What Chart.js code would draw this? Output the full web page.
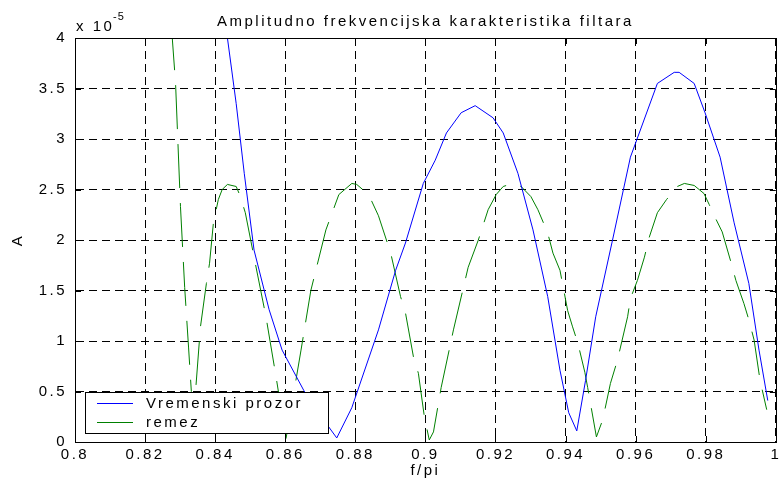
<!DOCTYPE html>
<html>
<head>
<meta charset="utf-8">
<script src="https://cdn.jsdelivr.net/npm/chart.js@4.4.0/dist/chart.umd.min.js"></script>
<style>
  html, body { margin: 0; padding: 0; background: #fff; }
</style>
</head>
<body>
<canvas id="grafik" width="784" height="484"></canvas>
<script>
// amplitude values are in units of 1e-5 (see "x 10^-5" above the axis)
const naslov = 'Amplitudno frekvencijska karakteristika filtara';
const imeProzor = 'Vremenski prozor';
const imeRemez = 'remez';

const freqProzor = [0.8415, 0.8435, 0.8460, 0.8483, 0.8511, 0.8554, 0.8591, 0.8653, 0.8724, 0.8747,
  0.8790, 0.8866, 0.8915, 0.8943, 0.8994, 0.9028, 0.9060, 0.9102, 0.9142, 0.9193,
  0.9222, 0.9264, 0.9307, 0.9349, 0.9384, 0.9409, 0.9432, 0.9457, 0.9486, 0.9534,
  0.9585, 0.9662, 0.9710, 0.9724, 0.9767, 0.9798, 0.9841, 0.9881, 0.9923, 0.9952, 0.9977];
const ampProzor = [4.5, 4.0, 3.35, 2.66, 1.9, 1.31, 0.91, 0.51, 0.15, 0.04,
  0.34, 1.11, 1.70, 1.97, 2.56, 2.79, 3.06, 3.26, 3.33, 3.21,
  3.06, 2.66, 2.10, 1.44, 0.71, 0.29, 0.11, 0.61, 1.24, 2.0,
  2.82, 3.55, 3.66, 3.66, 3.55, 3.26, 2.82, 2.17, 1.57, 0.91, 0.41];

const freqRemez = [0.8270, 0.8278, 0.8287, 0.8301, 0.8313, 0.8324, 0.8332, 0.8338, 0.8344, 0.8358,
  0.8375, 0.8384, 0.8395, 0.8409, 0.8420, 0.8435, 0.8460, 0.8472, 0.8486, 0.8511,
  0.8545, 0.8574, 0.8602, 0.8625, 0.8645, 0.8673, 0.8716, 0.8753, 0.8790, 0.8804,
  0.8838, 0.8866, 0.8901, 0.8929, 0.8943, 0.8966, 0.8980, 0.8997, 0.9011, 0.9023,
  0.9045, 0.9080, 0.9122, 0.9151, 0.9179, 0.9202, 0.9222, 0.9250, 0.9273, 0.9301,
  0.9321, 0.9349, 0.9364, 0.9384, 0.9406, 0.9420, 0.9435, 0.9455, 0.9463, 0.9488,
  0.9506, 0.9528, 0.9548, 0.9577, 0.9585, 0.9605, 0.9625, 0.9639, 0.9662, 0.9688,
  0.9719, 0.9739, 0.9767, 0.9795, 0.9810, 0.9830, 0.9847, 0.9872, 0.9886, 0.9909,
  0.9923, 0.9938, 0.9955, 0.9974];
const ampRemez = [4.7, 3.98, 3.55, 2.33, 1.53, 0.94, 0.5, 0.3, 0.5, 1.14,
  1.57, 1.77, 2.17, 2.4, 2.5, 2.55, 2.53, 2.43, 2.27, 1.83,
  1.24, 0.64, 0.03, 0.5, 0.91, 1.5, 2.1, 2.45, 2.56, 2.55,
  2.45, 2.24, 1.87, 1.44, 1.28, 0.84, 0.68, 0.25, 0.02, 0.1,
  0.54, 1.11, 1.73, 2.0, 2.3, 2.45, 2.53, 2.56, 2.53, 2.43,
  2.3, 2.07, 1.87, 1.7, 1.3, 1.14, 0.98, 0.69, 0.54, 0.05,
  0.22, 0.58, 0.81, 1.24, 1.42, 1.6, 1.83, 2.03, 2.27, 2.4,
  2.53, 2.56, 2.54, 2.46, 2.35, 2.2, 2.08, 1.78, 1.6, 1.37,
  1.21, 1.01, 0.61, 0.32];

const xTicks = [0.8, 0.82, 0.84, 0.86, 0.88, 0.9, 0.92, 0.94, 0.96, 0.98, 1];
const yTicks = [0, 0.5, 1, 1.5, 2, 2.5, 3, 3.5, 4];

const font = '"Liberation Sans", Arial, sans-serif';
const razmak = '2.5px';

function tacke(xs, ys) {
  return xs.map((x, i) => ({ x: x, y: ys[i] }));
}

const matlabIzgled = {
  id: 'matlabIzgled',
  beforeDraw(chart) {
    const ctx = chart.ctx;
    ctx.save();
    ctx.fillStyle = '#fff';
    ctx.fillRect(0, 0, chart.width, chart.height);
    ctx.restore();
    ctx.letterSpacing = razmak;
  },
  afterDraw(chart) {
    const ctx = chart.ctx;
    const a = chart.chartArea;
    const xs = chart.scales.x, ys = chart.scales.y;
    ctx.save();
    ctx.letterSpacing = razmak;
    ctx.strokeStyle = '#000';
    ctx.lineWidth = 1;
    ctx.setLineDash([]);
    // box
    ctx.strokeRect(Math.round(a.left) + 0.5, Math.round(a.top) + 0.5,
      Math.round(a.right - a.left), Math.round(a.bottom - a.top));
    // inward ticks
    ctx.beginPath();
    xTicks.forEach(v => {
      const p = Math.round(xs.getPixelForValue(v)) + 0.5;
      ctx.moveTo(p, a.bottom); ctx.lineTo(p, a.bottom - 6);
      ctx.moveTo(p, a.top); ctx.lineTo(p, a.top + 6);
    });
    yTicks.forEach(v => {
      const p = Math.round(ys.getPixelForValue(v)) + 0.5;
      ctx.moveTo(a.left, p); ctx.lineTo(a.left + 6, p);
      ctx.moveTo(a.right, p); ctx.lineTo(a.right - 6, p);
    });
    ctx.stroke();

    // title
    ctx.fillStyle = '#000';
    ctx.font = '15px ' + font;
    ctx.textAlign = 'center';
    ctx.textBaseline = 'alphabetic';
    ctx.fillText(naslov, (a.left + a.right) / 2, 26);

    // exponent
    ctx.textAlign = 'left';
    ctx.fillText('x 10', 76, 31);
    ctx.font = '11px ' + font;
    ctx.letterSpacing = '1px';
    ctx.fillText('-5', 113, 20);
    ctx.letterSpacing = razmak;

    // legend
    const lx = 85, ly = 392, lw = 243, lh = 41;
    ctx.fillStyle = '#fff';
    ctx.fillRect(lx, ly, lw, lh);
    ctx.strokeStyle = '#000';
    ctx.strokeRect(lx + 0.5, ly + 0.5, lw, lh);
    ctx.font = '15px ' + font;
    ctx.textBaseline = 'middle';
    chart.data.datasets.forEach((ds, i) => {
      const y = ly + 11 + i * 19;
      ctx.strokeStyle = ds.borderColor;
      ctx.beginPath();
      ctx.moveTo(97, y + 0.5);
      ctx.lineTo(133, y + 0.5);
      ctx.stroke();
      ctx.fillStyle = '#000';
      ctx.fillText(ds.label, 146, y + 1);
    });
    ctx.restore();
  }
};

const config = {
  type: 'line',
  data: {
    datasets: [
      {
        label: imeProzor,
        data: tacke(freqProzor, ampProzor),
        borderColor: 'rgb(0,0,255)',
        borderWidth: 1,
        pointRadius: 0,
        tension: 0,
        fill: false
      },
      {
        label: imeRemez,
        data: tacke(freqRemez, ampRemez),
        borderColor: 'rgb(0,128,0)',
        borderWidth: 1,
        borderDash: [44, 15],
        pointRadius: 0,
        tension: 0,
        fill: false
      }
    ]
  },
  options: {
    responsive: false,
    animation: false,
    devicePixelRatio: 1,
    layout: { padding: { top: 38, right: 5, left: 0, bottom: 0 } },
    plugins: {
      legend: { display: false },
      title: { display: false },
      tooltip: { enabled: false }
    },
    scales: {
      x: {
        type: 'linear',
        min: 0.8,
        max: 1,
        afterBuildTicks: s => { s.ticks = xTicks.map(v => ({ value: v })); },
        afterFit: s => { s.height = 42; },
        ticks: {
          autoSkip: false,
          maxRotation: 0,
          padding: 4,
          color: '#000',
          font: { family: font, size: 15 },
          callback: v => String(+(+v).toFixed(2))
        },
        grid: { color: '#000', lineWidth: 1, drawTicks: false },
        border: { display: true, color: '#000', dash: [8, 5] },
        title: {
          display: true,
          text: 'f/pi',
          color: '#000',
          font: { family: font, size: 15 },
          padding: { top: 0, bottom: 4 }
        }
      },
      y: {
        type: 'linear',
        min: 0,
        max: 4,
        afterBuildTicks: s => { s.ticks = yTicks.map(v => ({ value: v })); },
        afterFit: s => { s.width = 75; },
        ticks: {
          padding: 8,
          color: '#000',
          font: { family: font, size: 15 },
          callback: v => String(+(+v).toFixed(2))
        },
        grid: { color: '#000', lineWidth: 1, drawTicks: false },
        border: { display: true, color: '#000', dash: [8, 5] },
        title: {
          display: true,
          text: 'A',
          color: '#000',
          font: { family: font, size: 15 },
          padding: { top: 9, bottom: 0 }
        }
      }
    }
  },
  plugins: [matlabIzgled]
};

const grafik = new Chart(document.getElementById('grafik'), config);
</script>
</body>
</html>
